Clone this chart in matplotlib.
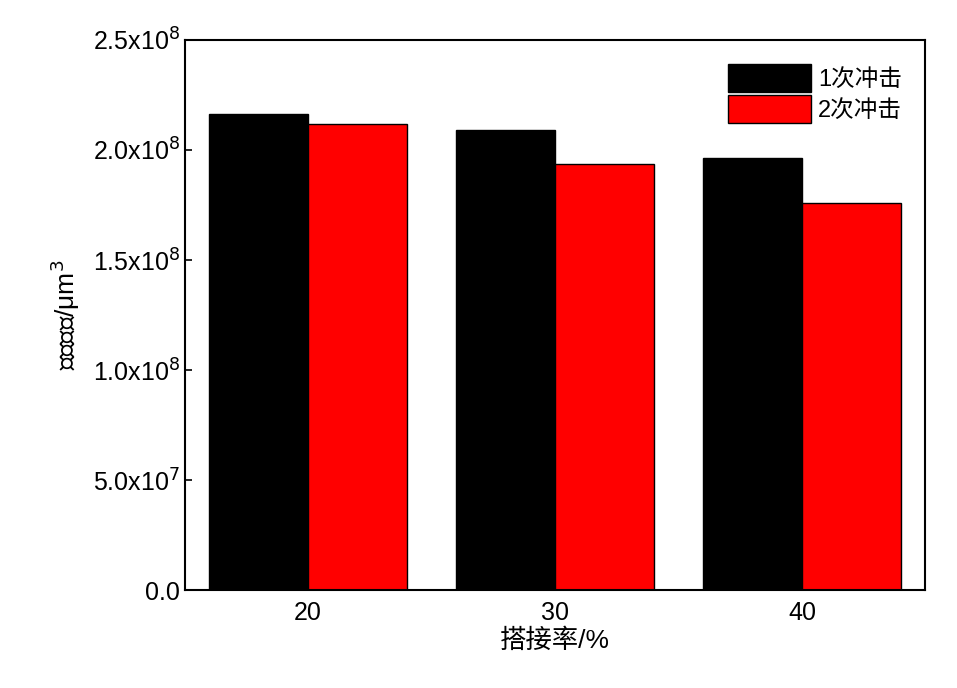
import matplotlib.pyplot as plt
import numpy as np

plt.rcParams['font.family'] = ['Liberation Sans', 'Noto Sans CJK SC']

categories = ['20', '30', '40']
impact1 = [2.164e8, 2.091e8, 1.964e8]
impact2 = [2.118e8, 1.936e8, 1.759e8]
yticks = [0, 0.5e8, 1.0e8, 1.5e8, 2.0e8, 2.5e8]
ylabels = ['0.0', r'5.0x10$^7$', r'1.0x10$^8$', r'1.5x10$^8$', r'2.0x10$^8$', r'2.5x10$^8$']

fig = plt.figure(figsize=(9.57, 6.88), dpi=100)
ax = fig.add_axes([0.193, 0.142, 0.774, 0.8])

x = np.arange(1, len(categories) + 1)
w = 0.4
ax.bar(x - w / 2, impact1, w, color='black', edgecolor='black', linewidth=1, label='1次冲击')
ax.bar(x + w / 2, impact2, w, color='#ff0000', edgecolor='black', linewidth=1, label='2次冲击')

ax.set_xlim(0.5, 3.5)
ax.set_ylim(0, 2.5e8)
ax.set_xticks(x)
ax.set_xticklabels(categories)
ax.set_yticks(yticks)
ax.set_yticklabels(ylabels)
ax.tick_params(labelsize=18, direction='in', length=5, width=1.2)
ax.tick_params(axis='x', length=0, pad=8)
for s in ax.spines.values():
    s.set_linewidth(1.5)

ax.set_xlabel('搭接率/%', fontsize=19, labelpad=2)
ax.set_ylabel(r'磨损体积/μm$^3$', fontsize=19, labelpad=8)

ax.legend(loc='upper right', fontsize=17, frameon=False, handlelength=3.5, handleheight=1.5,
          handletextpad=0.3, labelspacing=0.1, borderaxespad=0.6)

fig.savefig('out.png', dpi=100)
